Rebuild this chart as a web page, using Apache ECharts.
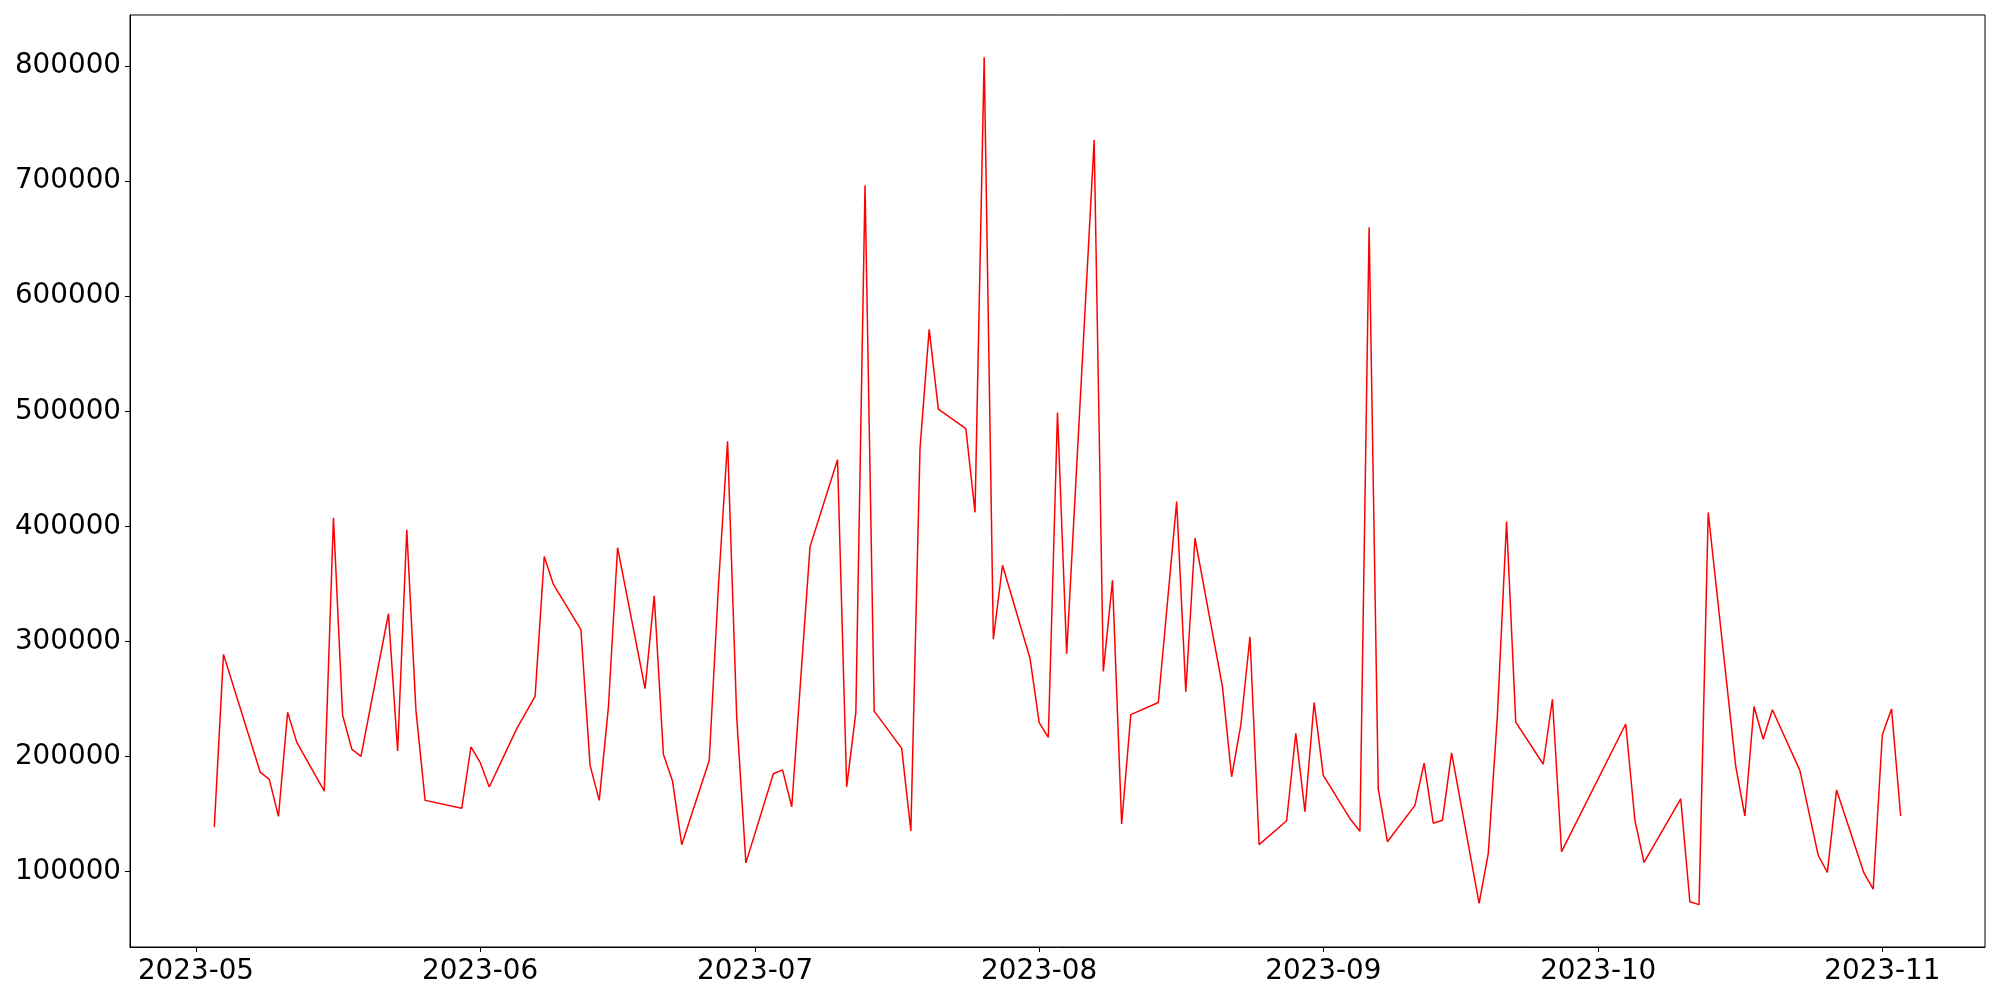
<!DOCTYPE html>
<html>
<head>
<meta charset="utf-8">
<script src="https://cdn.jsdelivr.net/npm/echarts@6/dist/echarts.min.js"></script>
<style>
  html, body { margin: 0; padding: 0; background: #fff; }
  #main { width: 2000px; height: 1000px; }
</style>
</head>
<body>
<div id="main"></div>
<script>
var myChart = echarts.init(document.getElementById('main'));

var dates = [
    '2023-05-03', '2023-05-04', '2023-05-08', '2023-05-09', '2023-05-10', '2023-05-11', '2023-05-12',
    '2023-05-15', '2023-05-16', '2023-05-17', '2023-05-18', '2023-05-19', '2023-05-22', '2023-05-23',
    '2023-05-24', '2023-05-25', '2023-05-26', '2023-05-30', '2023-05-31', '2023-06-01', '2023-06-02',
    '2023-06-05', '2023-06-07', '2023-06-08', '2023-06-09', '2023-06-12', '2023-06-13', '2023-06-14',
    '2023-06-15', '2023-06-16', '2023-06-19', '2023-06-20', '2023-06-21', '2023-06-22', '2023-06-23',
    '2023-06-26', '2023-06-27', '2023-06-28', '2023-06-29', '2023-06-30', '2023-07-03', '2023-07-04',
    '2023-07-05', '2023-07-07', '2023-07-10', '2023-07-11', '2023-07-12', '2023-07-13', '2023-07-14',
    '2023-07-17', '2023-07-18', '2023-07-19', '2023-07-20', '2023-07-21', '2023-07-24', '2023-07-25',
    '2023-07-26', '2023-07-27', '2023-07-28', '2023-07-31', '2023-08-01', '2023-08-02', '2023-08-03',
    '2023-08-04', '2023-08-07', '2023-08-08', '2023-08-09', '2023-08-10', '2023-08-11', '2023-08-14',
    '2023-08-16', '2023-08-17', '2023-08-18', '2023-08-21', '2023-08-22', '2023-08-23', '2023-08-24',
    '2023-08-25', '2023-08-28', '2023-08-29', '2023-08-30', '2023-08-31', '2023-09-01', '2023-09-04',
    '2023-09-05', '2023-09-06', '2023-09-07', '2023-09-08', '2023-09-11', '2023-09-12', '2023-09-13',
    '2023-09-14', '2023-09-15', '2023-09-18', '2023-09-19', '2023-09-20', '2023-09-21', '2023-09-22',
    '2023-09-25', '2023-09-26', '2023-09-27', '2023-10-04', '2023-10-05', '2023-10-06', '2023-10-10',
    '2023-10-11', '2023-10-12', '2023-10-13', '2023-10-16', '2023-10-17', '2023-10-18', '2023-10-19',
    '2023-10-20', '2023-10-23', '2023-10-25', '2023-10-26', '2023-10-27', '2023-10-30', '2023-10-31',
    '2023-11-01', '2023-11-02', '2023-11-03'
];

var values = [
    138700, 288800, 186500, 180200, 148000, 238400, 212300,
    170000, 407500, 235800, 206500, 200200, 324100, 204800,
    397100, 240100, 161900, 155000, 208300, 195000, 173500,
    224200, 252300, 373900, 349600, 310200, 192300, 161900,
    243000, 381500, 259000, 339800, 201900, 178500, 123400,
    196500, 347300, 474000, 234000, 107600, 185100, 188400,
    156200, 382400, 458000, 173700, 238600, 696400, 239500,
    207100, 135300, 467900, 571200, 501900, 485000, 412200,
    807600, 301900, 366200, 285400, 229500, 216600, 498900,
    289400, 735700, 273900, 353100, 141400, 236400, 247000,
    421500, 256300, 389700, 260600, 182400, 227400, 304100,
    123500, 144200, 220200, 152000, 247000, 183700, 145000,
    135000, 660000, 171600, 126000, 157600, 194200, 142100,
    144600, 203200, 72300, 115700, 236000, 404300, 229900,
    193300, 249800, 117300, 228300, 144600, 108000, 163200,
    73800, 71300, 412100, 191700, 148300, 243500, 215000,
    240700, 188000, 114200, 99300, 171000, 98600, 84700,
    219000, 241400, 148300
];

var monthTicks = ['2023-05-01', '2023-06-01', '2023-07-01', '2023-08-01', '2023-09-01', '2023-10-01', '2023-11-01'];
var yTicks = [100000, 200000, 300000, 400000, 500000, 600000, 700000, 800000];

function toTime(s) {
    var p = s.split('-');
    return new Date(+p[0], +p[1] - 1, +p[2]).getTime();
}
function pad(n) { return n < 10 ? '0' + n : '' + n; }

var seriesData = [];
for (var i = 0; i < dates.length; i++) {
    seriesData.push([toTime(dates[i]), values[i]]);
}

// matplotlib style 5% margins
var t0 = seriesData[0][0], t1 = seriesData[seriesData.length - 1][0];
var vMin = Math.min.apply(null, values), vMax = Math.max.apply(null, values);
var tPad = (t1 - t0) * 0.05, vPad = (vMax - vMin) * 0.05;
var xTickValues = monthTicks.map(toTime);

var labelFont = {
    color: '#000',
    fontSize: 27.8,
    fontFamily: 'DejaVu Sans'
};

option = {
    animation: false,
    backgroundColor: '#fff',
    grid: {
        left: 130,
        right: 15,
        top: 15,
        bottom: 53,
        show: true,
        borderColor: '#000',
        borderWidth: 1,
        backgroundColor: 'transparent'
    },
    xAxis: {
        // plain value axis holding timestamps, ticks on month starts
        type: 'value',
        min: t0 - tPad,
        max: t1 + tPad,
        scale: true,
        splitLine: { show: false },
        axisLine: { show: true, lineStyle: { color: '#000', width: 1 } },
        axisTick: {
            show: true,
            length: 5,
            customValues: xTickValues,
            lineStyle: { color: '#000', width: 1 }
        },
        axisLabel: Object.assign({
            margin: 11,
            customValues: xTickValues,
            formatter: function (val) {
                var d = new Date(val);
                return d.getFullYear() + '-' + pad(d.getMonth() + 1);
            }
        }, labelFont)
    },
    yAxis: {
        type: 'value',
        min: vMin - vPad,
        max: vMax + vPad,
        splitLine: { show: false },
        axisLine: { show: true, lineStyle: { color: '#000', width: 1 } },
        axisTick: {
            show: true,
            length: 5,
            customValues: yTicks,
            lineStyle: { color: '#000', width: 1 }
        },
        axisLabel: Object.assign({
            margin: 9,
            customValues: yTicks,
            formatter: function (v) { return String(Math.round(v)); }
        }, labelFont)
    },
    series: [
        {
            type: 'line',
            data: seriesData,
            showSymbol: false,
            symbol: 'none',
            lineStyle: { color: '#ff0000', width: 1.5 },
            itemStyle: { color: '#ff0000' }
        }
    ]
};

myChart.setOption(option);
</script>
</body>
</html>
